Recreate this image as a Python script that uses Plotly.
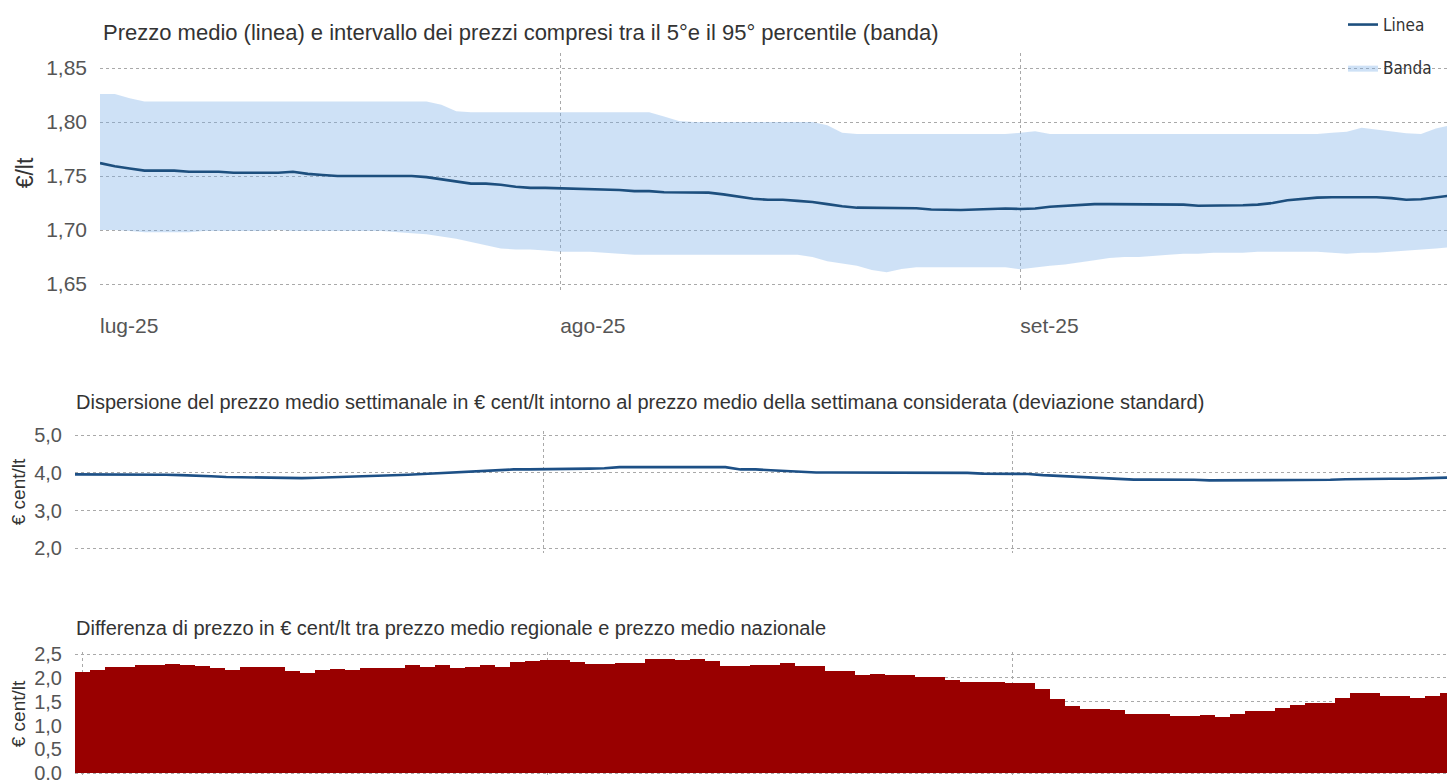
import plotly.graph_objects as go
import pandas as pd

# ---------------- data ----------------
dates = pd.date_range("2025-07-01", periods=92, freq="D")

prezzo_medio = [
    1.762, 1.759, 1.757, 1.755, 1.755, 1.755, 1.754, 1.754, 1.754, 1.753,
    1.753, 1.753, 1.753, 1.754, 1.752, 1.751, 1.750, 1.750, 1.750, 1.750,
    1.750, 1.750, 1.749, 1.747, 1.745, 1.743, 1.743, 1.742, 1.740, 1.739,
    1.739, 1.7386, 1.738, 1.738, 1.737, 1.737, 1.736, 1.736, 1.735, 1.735,
    1.7346, 1.7346, 1.733, 1.731, 1.729, 1.728, 1.728, 1.727, 1.726, 1.724,
    1.722, 1.7207, 1.7205, 1.7203, 1.7202, 1.7201, 1.719, 1.7185, 1.7185, 1.719,
    1.7195, 1.720, 1.7195, 1.720, 1.7215, 1.7225, 1.7235, 1.724, 1.724, 1.724,
    1.724, 1.724, 1.724, 1.7235, 1.7225, 1.7225, 1.7225, 1.723, 1.7235, 1.725,
    1.7275, 1.729, 1.730, 1.7303, 1.7303, 1.7303, 1.7303, 1.7295, 1.728, 1.7285,
    1.7305, 1.732,
]

banda_sup = [
    1.826, 1.826, 1.822, 1.819, 1.819, 1.819, 1.819, 1.819, 1.819, 1.819,
    1.819, 1.819, 1.819, 1.819, 1.819, 1.819, 1.819, 1.819, 1.819, 1.819,
    1.819, 1.819, 1.819, 1.816, 1.810, 1.809, 1.809, 1.809, 1.809, 1.809,
    1.809, 1.809, 1.809, 1.809, 1.809, 1.809, 1.809, 1.809, 1.805, 1.801,
    1.800, 1.800, 1.800, 1.800, 1.800, 1.800, 1.800, 1.800, 1.800, 1.797,
    1.790, 1.789, 1.789, 1.789, 1.789, 1.789, 1.789, 1.789, 1.789, 1.789,
    1.789, 1.789, 1.790, 1.7915, 1.789, 1.789, 1.789, 1.789, 1.789, 1.789,
    1.789, 1.789, 1.789, 1.789, 1.789, 1.789, 1.789, 1.789, 1.789, 1.789,
    1.789, 1.789, 1.789, 1.790, 1.791, 1.7948, 1.793, 1.791, 1.7895, 1.789,
    1.794, 1.797,
]

banda_inf = [
    1.700, 1.700, 1.699, 1.698, 1.698, 1.698, 1.698, 1.699, 1.699, 1.699,
    1.699, 1.699, 1.700, 1.699, 1.699, 1.699, 1.699, 1.699, 1.699, 1.699,
    1.698, 1.697, 1.696, 1.694, 1.692, 1.689, 1.686, 1.683, 1.682, 1.682,
    1.681, 1.680, 1.680, 1.680, 1.679, 1.678, 1.677, 1.677, 1.677, 1.677,
    1.677, 1.677, 1.677, 1.677, 1.677, 1.677, 1.677, 1.677, 1.675, 1.671,
    1.669, 1.667, 1.663, 1.661, 1.664, 1.6655, 1.6655, 1.6655, 1.6655, 1.6655,
    1.6655, 1.6655, 1.6636, 1.665, 1.667, 1.668, 1.670, 1.672, 1.674, 1.675,
    1.675, 1.676, 1.677, 1.678, 1.678, 1.679, 1.679, 1.679, 1.680, 1.680,
    1.680, 1.680, 1.680, 1.679, 1.678, 1.679, 1.679, 1.680, 1.681, 1.682,
    1.683, 1.684,
]

dev_standard = [
    3.96, 3.96, 3.96, 3.96, 3.96, 3.96, 3.95, 3.94, 3.93, 3.91,
    3.89, 3.88, 3.87, 3.86, 3.86, 3.86, 3.87, 3.88, 3.90, 3.91,
    3.92, 3.93, 3.95, 3.97, 3.99, 4.02, 4.04, 4.06, 4.08, 4.09,
    4.09, 4.09, 4.11, 4.11, 4.11, 4.12, 4.15, 4.15, 4.15, 4.15,
    4.15, 4.15, 4.15, 4.15, 4.09, 4.09, 4.07, 4.05, 4.04, 4.01,
    4.01, 4.01, 4.01, 4.01, 4.01, 4.01, 3.99, 3.99, 3.99, 4.00,
    3.98, 3.98, 3.98, 3.97, 3.94, 3.92, 3.89, 3.88, 3.86, 3.84,
    3.82, 3.82, 3.82, 3.815, 3.815, 3.80, 3.80, 3.80, 3.80, 3.80,
    3.80, 3.815, 3.815, 3.815, 3.83, 3.84, 3.84, 3.845, 3.845, 3.86,
    3.87, 3.875,
]

differenza = [
    2.13, 2.17, 2.22, 2.22, 2.26, 2.26, 2.30, 2.28, 2.24, 2.20,
    2.17, 2.23, 2.22, 2.23, 2.15, 2.10, 2.17, 2.19, 2.17, 2.21,
    2.20, 2.21, 2.26, 2.23, 2.26, 2.21, 2.23, 2.26, 2.22, 2.33,
    2.35, 2.37, 2.38, 2.34, 2.29, 2.29, 2.32, 2.32, 2.40, 2.40,
    2.38, 2.40, 2.35, 2.24, 2.24, 2.27, 2.27, 2.31, 2.24, 2.24,
    2.15, 2.15, 2.06, 2.09, 2.06, 2.06, 2.01, 2.01, 1.96, 1.91,
    1.92, 1.92, 1.90, 1.90, 1.76, 1.56, 1.42, 1.34, 1.34, 1.32,
    1.25, 1.25, 1.25, 1.21, 1.21, 1.23, 1.19, 1.25, 1.30, 1.30,
    1.37, 1.43, 1.47, 1.47, 1.58, 1.69, 1.69, 1.63, 1.63, 1.58,
    1.61, 1.68,
]

mesi_tick = ["2025-07-01", "2025-08-01", "2025-09-01"]
mesi_label = ["lug-25", "ago-25", "set-25"]

titolo_1 = "Prezzo medio (linea) e intervallo dei prezzi compresi tra il 5°e il 95° percentile (banda)"
titolo_2 = ("Dispersione del prezzo medio settimanale in € cent/lt intorno al prezzo medio "
            "della settimana considerata (deviazione standard)")
titolo_3 = "Differenza di prezzo in € cent/lt tra prezzo medio regionale e prezzo medio nazionale"

# ---------------- layout helpers ----------------
W, H = 1447, 780
FONT = "Arial, 'Liberation Sans', sans-serif"
GRID = "#a9a9a9"
DASH = "3px,3px"


def px_x(p):
    return p / W


def px_y(p):
    return 1 - p / H


fig = go.Figure()

# Top panel: band + mean line
band_x = list(dates) + list(dates[::-1])
band_y = banda_sup + banda_inf[::-1]
fig.add_trace(go.Scatter(
    x=band_x, y=band_y, fill="toself", mode="lines",
    line=dict(width=0), fillcolor="rgba(118,172,230,0.36)",
    name="Banda", legendgroup="b", legendrank=2, hoverinfo="skip",
    xaxis="x", yaxis="y",
))
fig.add_trace(go.Scatter(
    x=dates, y=prezzo_medio, mode="lines",
    line=dict(color="#1d4f7e", width=2.6),
    name="Linea", legendgroup="a", legendrank=1,
    xaxis="x", yaxis="y",
))

# Middle panel
fig.add_trace(go.Scatter(
    x=dates, y=dev_standard, mode="lines",
    line=dict(color="#1d5086", width=2.6),
    showlegend=False, xaxis="x2", yaxis="y2",
))

# Bottom panel
fig.add_trace(go.Bar(
    x=dates, y=differenza, width=86400000,
    marker=dict(color="#990000", line=dict(width=0)),
    showlegend=False, xaxis="x3", yaxis="y3",
))

common_x = dict(
    type="date", showgrid=True, gridcolor=GRID, griddash=DASH, gridwidth=1,
    tickvals=mesi_tick, ticktext=mesi_label, zeroline=False, showline=False,
    automargin=False,
)
common_y = dict(
    showgrid=True, gridcolor=GRID, griddash=DASH, gridwidth=1,
    zeroline=False, showline=False, ticks="", color="#555", automargin=False,
)

fig.update_layout(
    width=W, height=H,
    margin=dict(l=0, r=0, t=0, b=0, autoexpand=False),
    paper_bgcolor="white", plot_bgcolor="white",
    separators=",.",
    font=dict(family=FONT, color="#555"),
    bargap=0,
    xaxis=dict(
        **common_x,
        domain=[px_x(100), 1], anchor="y",
        range=["2025-07-01", "2025-09-29 18:00"],
        showticklabels=True, ticklabelposition="outside right",
        ticklabelstandoff=18, tickfont=dict(size=21, color="#555"),
    ),
    yaxis=dict(
        **common_y,
        domain=[px_y(293), px_y(53)], anchor="x",
        range=[1.6417, 1.8639], tickvals=[1.65, 1.70, 1.75, 1.80, 1.85],
        tickformat=".2f", tickfont=dict(size=21, color="#555"),
        ticklabelstandoff=12,
        title=dict(text="€/lt", font=dict(size=23, color="#333"), standoff=6),
    ),
    xaxis2=dict(
        **common_x,
        domain=[px_x(75), 1], anchor="y2",
        range=["2025-07-01", "2025-09-29 17:00"],
        showticklabels=False,
    ),
    yaxis2=dict(
        **common_y,
        domain=[px_y(553), px_y(431)], anchor="x2",
        range=[1.88, 5.106], tickvals=[2, 3, 4, 5],
        tickformat=".1f", tickfont=dict(size=20, color="#555"),
        ticklabelstandoff=12,
        title=dict(text="€ cent/lt", font=dict(size=19, color="#333"), standoff=3),
    ),
    xaxis3=dict(
        **common_x,
        domain=[px_x(75), 1], anchor="y3",
        range=["2025-06-30 12:00", "2025-09-29 23:00"],
        showticklabels=False,
    ),
    yaxis3=dict(
        **common_y,
        domain=[px_y(776), px_y(652)], anchor="x3",
        range=[-0.057, 2.542], tickvals=[0, 0.5, 1.0, 1.5, 2.0, 2.5],
        tickformat=".1f", tickfont=dict(size=20, color="#555"),
        ticklabelstandoff=12, ticklabeloverflow="allow",
        title=dict(text="€ cent/lt", font=dict(size=19, color="#333"), standoff=3),
    ),
    legend=dict(
        x=px_x(1343), y=px_y(7), xanchor="left", yanchor="top",
        traceorder="grouped", tracegroupgap=18, itemwidth=30,
        font=dict(family="'DejaVu Sans Condensed', 'Roboto Condensed', sans-serif",
                  size=17, color="#333"),
        bgcolor="rgba(0,0,0,0)",
    ),
    showlegend=True,
)

fig.add_annotation(text=titolo_1, xref="paper", yref="paper", x=px_x(101), y=px_y(33),
                   xanchor="left", yanchor="middle", showarrow=False,
                   font=dict(size=22, color="#333", family=FONT))
fig.add_annotation(text=titolo_2, xref="paper", yref="paper", x=px_x(74), y=px_y(402),
                   xanchor="left", yanchor="middle", showarrow=False,
                   font=dict(size=20, color="#333", family=FONT))
fig.add_annotation(text=titolo_3, xref="paper", yref="paper", x=px_x(74), y=px_y(628),
                   xanchor="left", yanchor="middle", showarrow=False,
                   font=dict(size=20, color="#333", family=FONT))

# remove the page's default body margin so the 1447x780 figure fills the window exactly
fig.write_html(
    "out.html",
    config={"displayModeBar": False},
    post_script="document.body.style.margin='0';document.body.style.overflow='hidden';",
)
